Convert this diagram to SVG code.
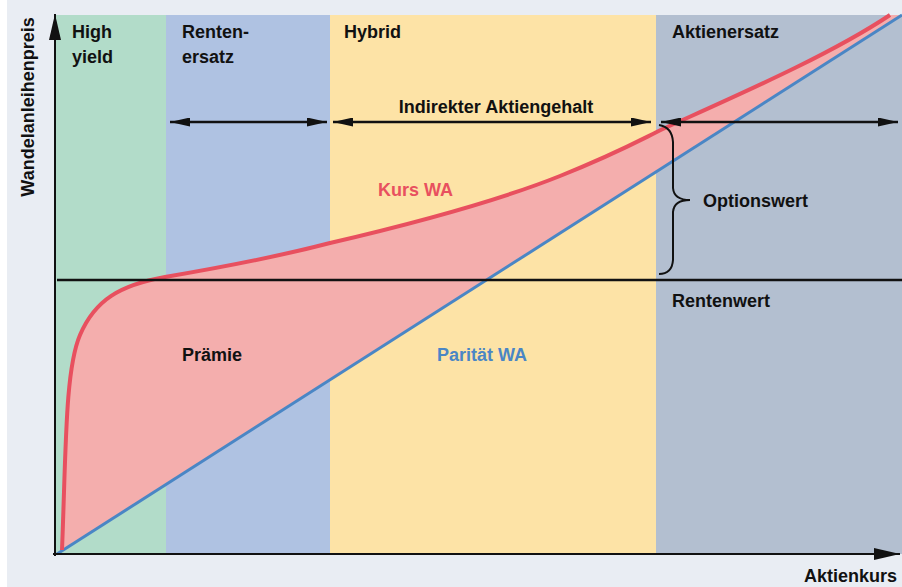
<svg xmlns="http://www.w3.org/2000/svg" width="902" height="587" viewBox="0 0 902 587">
<defs>
<style>
.t{font-family:"Liberation Sans","DejaVu Sans",sans-serif;font-weight:bold;font-size:18px;fill:#111;}
.ln{fill:none;stroke:#111;stroke-width:2.5;}
</style>
<marker id="ah" viewBox="0 0 10 10" refX="10" refY="5" markerWidth="20" markerHeight="9" markerUnits="userSpaceOnUse" orient="auto-start-reverse" preserveAspectRatio="none">
<path d="M0,0 L10,5 L0,10 Z" fill="#111"/>
</marker>
<marker id="ax" viewBox="0 0 10 10" refX="10" refY="5" markerWidth="26" markerHeight="12" markerUnits="userSpaceOnUse" orient="auto" preserveAspectRatio="none">
<path d="M0,0 L10,5 L0,10 Z" fill="#111"/>
</marker>
</defs>
<rect x="0" y="0" width="902" height="587" fill="#ffffff"/>
<rect x="7" y="0" width="895" height="587" fill="#E9EDF3"/>
<g id="bands">
<rect x="55" y="15" width="111" height="539" fill="#B2DCC9"/>
<rect x="166" y="15" width="164" height="539" fill="#AFC2E2"/>
<rect x="330" y="15" width="326" height="539" fill="#FDE3A6"/>
<rect x="656" y="15" width="246" height="539" fill="#B3BFD0"/>
</g>
<g id="premium-area">
<path d="M62,550 C66,450 65,370 80,335 C95,300 120,285 165,277 C230,266 280,256 330,243 C420,222 500,200 560,176 C620,152 640,140 665,128 C740,94 830,55 890,15 L902,15 L57,554 Z" fill="#F4AEAD"/>
</g>
<g id="connectors">
<line x1="57" y1="554" x2="902" y2="15" stroke="#4A86C5" stroke-width="3"/>
<path d="M62,550 C66,450 65,370 80,335 C95,300 120,285 165,277 C230,266 280,256 330,243 C420,222 500,200 560,176 C620,152 640,140 665,128 C740,94 830,55 890,15" fill="none" stroke="#E8505F" stroke-width="4"/>
<line x1="57" y1="280" x2="902" y2="280" stroke="#111" stroke-width="2.5"/>
<line x1="55" y1="556" x2="55" y2="14" stroke="#111" stroke-width="2" marker-end="url(#ax)"/>
<line x1="53" y1="554" x2="900" y2="554" stroke="#111" stroke-width="2" marker-end="url(#ax)"/>
<line x1="170" y1="122" x2="327" y2="122" class="ln" marker-start="url(#ah)" marker-end="url(#ah)"/>
<line x1="333" y1="122" x2="651" y2="122" class="ln" marker-start="url(#ah)" marker-end="url(#ah)"/>
<line x1="661" y1="122" x2="898" y2="122" class="ln" marker-start="url(#ah)" marker-end="url(#ah)"/>
<path d="M659,125 Q672,127 673,142 L673,188 Q674,200 690,200 Q674,200 673,212 L673,260 Q672,274 659,274" fill="none" stroke="#111" stroke-width="2"/>
</g>
<g id="labels">
<text class="t" x="72" y="38">High</text>
<text class="t" x="72" y="63">yield</text>
<text class="t" x="182" y="38">Renten-</text>
<text class="t" x="182" y="63">ersatz</text>
<text class="t" x="344" y="38">Hybrid</text>
<text class="t" x="672" y="38">Aktienersatz</text>
<text class="t" x="496" y="113" text-anchor="middle">Indirekter Aktiengehalt</text>
<text class="t" x="378" y="196" style="fill:#E8505F">Kurs WA</text>
<text class="t" x="703" y="207">Optionswert</text>
<text class="t" x="672" y="307">Rentenwert</text>
<text class="t" x="182" y="361">Prämie</text>
<text class="t" x="437" y="361" style="fill:#4A86C5">Parität WA</text>
<text class="t" x="897" y="582" text-anchor="end">Aktienkurs</text>
<text class="t" x="0" y="0" text-anchor="middle" transform="translate(34,107) rotate(-90)">Wandelanleihenpreis</text>
</g>
</svg>
